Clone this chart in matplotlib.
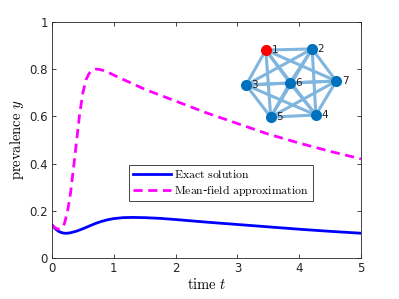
import numpy as np
import matplotlib
matplotlib.use('Agg')
import matplotlib.pyplot as plt
from itertools import combinations

plt.rcParams['mathtext.fontset'] = 'cm'
plt.rcParams['font.family'] = ['DejaVu Sans']

# curves
t_exact = [0, 0.05, 0.1, 0.15, 0.2, 0.25, 0.3, 0.4, 0.5, 0.6, 0.7, 0.8, 0.9, 1.0, 1.15,
           1.3, 1.5, 1.75, 2.0, 2.5, 3.0, 3.5, 4.0, 4.5, 5.0]
y_exact = [0.140, 0.125, 0.114, 0.108, 0.105, 0.105, 0.107, 0.114, 0.124, 0.135, 0.146,
           0.155, 0.162, 0.167, 0.171, 0.172, 0.171, 0.168, 0.163, 0.152, 0.142, 0.132,
           0.122, 0.113, 0.105]
t_mf = [0, 0.05, 0.1, 0.15, 0.2, 0.25, 0.3, 0.35, 0.4, 0.45, 0.5, 0.55, 0.6, 0.65, 0.7,
        0.75, 0.8, 0.9, 1.0, 1.25, 1.5, 2.0, 2.5, 3.0, 3.5, 4.0, 4.5, 5.0]
y_mf = [0.140, 0.128, 0.122, 0.125, 0.145, 0.195, 0.275, 0.385, 0.500, 0.615, 0.700,
        0.755, 0.782, 0.795, 0.800, 0.800, 0.797, 0.788, 0.775, 0.745, 0.715, 0.665,
        0.615, 0.570, 0.525, 0.487, 0.452, 0.420]

# network inset (node positions in data units of the main axes)
node_ids = ['1', '2', '3', '4', '5', '6', '7']
node_x = [3.46, 4.21, 3.14, 4.27, 3.54, 3.85, 4.60]
node_y = [0.881, 0.886, 0.733, 0.606, 0.597, 0.742, 0.750]
infected = '1'

fig = plt.figure(figsize=(3.99, 2.99), dpi=100)
ax = fig.add_axes([0.1303, 0.1371, 0.7744, 0.7893])

ax.plot(t_exact, y_exact, color='#0000ff', lw=2.0, label=r'$\mathrm{Exact\ solution}$')
ax.plot(t_mf, y_mf, color='#ff00ff', lw=2.0, ls=(0, (3.3, 2.0)),
        label=r'$\mathrm{Mean}$-$\mathrm{field\ approximation}$')

for i, j in combinations(range(len(node_ids)), 2):
    ax.plot([node_x[i], node_x[j]], [node_y[i], node_y[j]], color='#80b5dd',
            lw=2.2, zorder=3, solid_capstyle='butt')
for k, nid in enumerate(node_ids):
    c = '#ff0000' if nid == infected else '#0072bd'
    ax.plot(node_x[k], node_y[k], 'o', ms=8, color=c, mec='none', zorder=4)
    ax.text(node_x[k] + 0.09, node_y[k], nid, fontsize=7.5, va='center', ha='left',
            color='#222222', zorder=5)

ax.set_xlim(0, 5)
ax.set_ylim(0, 1)
ax.set_xticks([0, 1, 2, 3, 4, 5])
ax.set_yticks([0, 0.2, 0.4, 0.6, 0.8, 1])
ax.set_yticklabels(['0', '0.2', '0.4', '0.6', '0.8', '1'])
ax.tick_params(direction='in', top=True, right=True, length=3, width=0.6,
               labelsize=8.5, colors='#262626', pad=3)
for s in ax.spines.values():
    s.set_color('#262626')
    s.set_linewidth(0.6)

ax.set_xlabel(r'$\mathrm{time}\ t$', fontsize=10.5, labelpad=1)
ax.set_ylabel(r'$\mathrm{prevalence}\ y$', fontsize=10.5, labelpad=2)

leg = ax.legend(loc='lower left', bbox_to_anchor=(0.25, 0.24), fontsize=8.5,
                fancybox=False, framealpha=1, edgecolor='#262626', handlelength=3.2,
                borderpad=0.3, labelspacing=0.15, handletextpad=0.3, borderaxespad=0)
leg.get_frame().set_linewidth(0.6)

fig.savefig('out.png', dpi=100)
